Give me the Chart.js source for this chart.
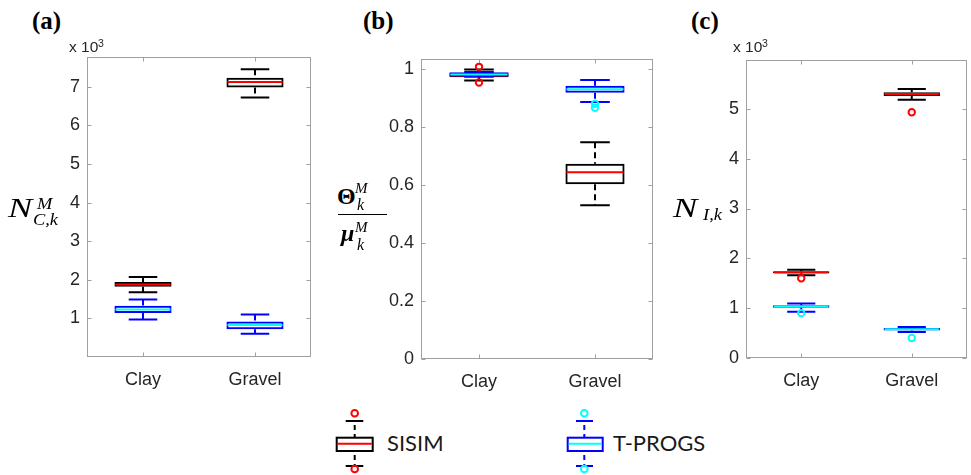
<!DOCTYPE html>
<html><head><meta charset="utf-8">
<script src="https://cdn.jsdelivr.net/npm/chart.js@4.4.1/dist/chart.umd.min.js"></script>
<style>
body{margin:0;background:#fff;}
#wrap{position:relative;width:971px;height:475px;overflow:hidden;background:#fff;}
#wrap canvas{position:absolute;}
.t{position:absolute;line-height:1;white-space:nowrap;color:#000;}
.serif{font-family:'Liberation Serif','Times New Roman',serif;}
.sans{font-family:'Liberation Sans',Arial,sans-serif;color:#262626;}
.lg{font-family:Lato,'Open Sans',sans-serif;color:#1a1a1a;font-size:22px;}
.wide{transform:scaleX(1.15);transform-origin:left top;}
.wideN{transform:scaleX(1.3);transform-origin:left top;}
svg{position:absolute;overflow:visible;}
</style></head>
<body><div id="wrap">
<canvas id="ca"></canvas><canvas id="cb"></canvas><canvas id="cc"></canvas>

<div class="t serif" style="left:32px;top:8px;font-size:25px;font-weight:bold;">(a)</div>
<div class="t serif" style="left:363px;top:8px;font-size:25px;font-weight:bold;">(b)</div>
<div class="t serif" style="left:691px;top:8px;font-size:25px;font-weight:bold;">(c)</div>

<div class="t sans" style="left:69px;top:38.7px;font-size:15.5px;">x 10</div>
<div class="t sans" style="left:98px;top:37.8px;font-size:10.5px;">3</div>
<div class="t sans" style="left:733px;top:38.7px;font-size:15.5px;">x 10</div>
<div class="t sans" style="left:762px;top:37.8px;font-size:10.5px;">3</div>

<!-- (a) label -->
<div class="t serif wideN" style="left:8px;top:193.8px;font-size:28px;font-style:italic;">N</div>
<div class="t serif wide" style="left:37px;top:195.6px;font-size:16px;font-style:italic;">M</div>
<div class="t serif wide" style="left:33px;top:212.2px;font-size:16px;font-style:italic;">C,k</div>

<!-- (b) label -->
<div class="t serif" style="left:337px;top:184px;font-size:24px;font-weight:bold;">Θ</div>
<div class="t serif" style="left:355px;top:180.9px;font-size:15px;font-style:italic;">M</div>
<div class="t serif" style="left:357px;top:196.6px;font-size:16px;font-style:italic;">k</div>
<div style="position:absolute;left:338px;top:214px;width:49px;height:0;border-top:1.5px solid #000;"></div>
<div class="t serif" style="left:341px;top:221px;font-size:24px;font-style:italic;font-weight:bold;">μ</div>
<div class="t serif" style="left:355px;top:220.4px;font-size:15px;font-style:italic;">M</div>
<div class="t serif" style="left:357px;top:236.6px;font-size:16px;font-style:italic;">k</div>

<!-- (c) label -->
<div class="t serif wideN" style="left:673px;top:193.8px;font-size:28px;font-style:italic;">N</div>
<div class="t serif wide" style="left:703px;top:206.6px;font-size:16px;font-style:italic;">I,k</div>

<!-- legend -->
<svg style="left:330px;top:405px;" width="50" height="70">
  <circle cx="24.7" cy="8.3" r="3.3" fill="none" stroke="#ff0000" stroke-width="2"/>
  <line x1="15.7" y1="16" x2="33.3" y2="16" stroke="#000" stroke-width="2"/>
  <line x1="24.7" y1="16" x2="24.7" y2="32.7" stroke="#000" stroke-width="2" stroke-dasharray="5,4" stroke-dashoffset="-4"/>
  <rect x="6.7" y="32.7" width="36" height="13.3" fill="none" stroke="#000" stroke-width="2"/>
  <line x1="7.7" y1="38.8" x2="41.7" y2="38.8" stroke="#ff0000" stroke-width="2"/>
  <line x1="24.7" y1="46" x2="24.7" y2="61" stroke="#000" stroke-width="2" stroke-dasharray="5,4" stroke-dashoffset="-4"/>
  <line x1="15.7" y1="61" x2="33.3" y2="61" stroke="#000" stroke-width="2"/>
  <circle cx="24.7" cy="64" r="3.3" fill="none" stroke="#ff0000" stroke-width="2"/>
</svg>
<div class="t lg" style="left:387px;top:431.7px;">SISIM</div>
<svg style="left:561px;top:405px;" width="50" height="70">
  <circle cx="23.3" cy="8.3" r="3.3" fill="none" stroke="#00ffff" stroke-width="2"/>
  <line x1="15" y1="16" x2="32" y2="16" stroke="#0000ff" stroke-width="2"/>
  <line x1="23.3" y1="16" x2="23.3" y2="32.7" stroke="#0000ff" stroke-width="2" stroke-dasharray="5,4" stroke-dashoffset="-4"/>
  <rect x="6.7" y="32.7" width="35" height="13.3" fill="none" stroke="#0000ff" stroke-width="2"/>
  <line x1="7.7" y1="38.8" x2="40.7" y2="38.8" stroke="#00ffff" stroke-width="2"/>
  <line x1="23.3" y1="46" x2="23.3" y2="61" stroke="#0000ff" stroke-width="2" stroke-dasharray="5,4" stroke-dashoffset="-4"/>
  <line x1="15" y1="61" x2="32" y2="61" stroke="#0000ff" stroke-width="2"/>
  <circle cx="23.3" cy="64" r="3.3" fill="none" stroke="#00ffff" stroke-width="2"/>
</svg>
<div class="t lg" style="left:613px;top:431.7px;">T-PROGS</div>
</div>

<script>
// ---------------- DATA ----------------
const categories = ['Clay', 'Gravel'];
// five-number summaries per category: [lower whisker, Q1, median, Q3, upper whisker]

// (a) N_C,k (x 10^3)
const sisimNC  = [[1.68, 1.82, 1.875, 1.94, 2.07], [6.72, 6.98, 7.12, 7.23, 7.45]];
const tprogsNC = [[0.97, 1.14, 1.23, 1.33, 1.49], [0.60, 0.72, 0.83, 0.92, 1.10]];
const sisimNCOut  = [[], []];
const tprogsNCOut = [[], []];
const ticksNC = [1, 2, 3, 4, 5, 6, 7];

// (b) Theta / mu
const sisimTheta  = [[0.959, 0.970, 0.976, 0.985, 0.997], [0.529, 0.602, 0.643, 0.672, 0.746]];
const tprogsTheta = [[0.972, 0.973, 0.980, 0.987, 0.988], [0.885, 0.917, 0.929, 0.941, 0.961]];
const sisimThetaOut  = [[1.006, 0.952], []];
const tprogsThetaOut = [[], [0.879, 0.865]];
const ticksTheta = [0, 0.2, 0.4, 0.6, 0.8, 1];

// (c) N_I,k (x 10^3)
const sisimNI  = [[1.66, 1.70, 1.715, 1.74, 1.77], [5.18, 5.26, 5.30, 5.335, 5.40]];
const tprogsNI = [[0.93, 1.01, 1.034, 1.06, 1.095], [0.52, 0.55, 0.575, 0.60, 0.62]];
const sisimNIOut  = [[1.60], [4.93]];
const tprogsNIOut = [[0.90], [0.40]];
const ticksNI = [0, 1, 2, 3, 4, 5];

// ---------------- STYLE ----------------
const SISIM = {box: '#000000', med: '#ff0000', out: '#ff0000'};
const TPROGS = {box: '#0000ff', med: '#00ffff', out: '#00ffff'};
const FRAME = '#a0a0a0';
const TICKFONT = {family: "'Liberation Sans', Arial, sans-serif", size: 18};

const boxPlugin = {
  id: 'boxWhisk',
  afterDatasetDraw(chart, args) {
    const ds = chart.data.datasets[args.index];
    if (!ds.stats) return;
    const ctx = chart.ctx, ys = chart.scales.y;
    ctx.save();
    ctx.lineWidth = 2;
    args.meta.data.forEach((bar, i) => {
      const s = ds.stats[i];
      const x = bar.x, w = bar.width;
      const p = s.map(v => ys.getPixelForValue(v));
      ctx.strokeStyle = ds.borderColor;
      ctx.setLineDash([6, 4]);
      ctx.beginPath();
      ctx.moveTo(x, p[4]); ctx.lineTo(x, p[3]);
      ctx.moveTo(x, p[1]); ctx.lineTo(x, p[0]);
      ctx.stroke();
      ctx.setLineDash([]);
      ctx.beginPath();
      ctx.moveTo(x - w / 4, p[4]); ctx.lineTo(x + w / 4, p[4]);
      ctx.moveTo(x - w / 4, p[0]); ctx.lineTo(x + w / 4, p[0]);
      ctx.stroke();
      ctx.strokeStyle = ds.medianColor;
      ctx.beginPath();
      ctx.moveTo(x - w / 2 + 1, p[2]); ctx.lineTo(x + w / 2 - 1, p[2]);
      ctx.stroke();
    });
    ctx.restore();
  }
};

const framePlugin = {
  id: 'frame',
  beforeDatasetsDraw(chart) {
    const {ctx, chartArea: a} = chart;
    const xs = chart.scales.x, ys = chart.scales.y;
    ctx.save();
    ctx.strokeStyle = FRAME; ctx.lineWidth = 1;
    const l = Math.round(a.left) + 0.5, r = Math.round(a.right) - 0.5;
    const t = Math.round(a.top) + 0.5, b = Math.round(a.bottom) - 0.5;
    ctx.strokeRect(l, t, r - l, b - t);
    ctx.beginPath();
    ys.ticks.forEach(tk => {
      const p = Math.round(ys.getPixelForValue(tk.value)) + 0.5;
      ctx.moveTo(l, p); ctx.lineTo(l + 4, p);
      ctx.moveTo(r, p); ctx.lineTo(r - 4, p);
    });
    xs.ticks.forEach((tk, i) => {
      const p = Math.round(xs.getPixelForTick(i)) + 0.5;
      ctx.moveTo(p, b); ctx.lineTo(p, b - 4);
      ctx.moveTo(p, t); ctx.lineTo(p, t + 4);
    });
    ctx.stroke();
    ctx.restore();
  }
};

function outPoints(arr) {
  const pts = [];
  arr.forEach((list, i) => list.forEach(v => pts.push({x: categories[i], y: v})));
  return pts;
}

function boxDataset(label, stats, col, order) {
  return {
    type: 'bar', label, order,
    data: stats.map(s => [s[1], s[3]]),
    stats, medianColor: col.med,
    borderColor: col.box, backgroundColor: 'rgba(0,0,0,0)',
    borderWidth: 2, borderSkipped: false, grouped: false,
    barPercentage: 0.51, categoryPercentage: 1.0
  };
}
function outDataset(label, arr, col, order) {
  return {
    type: 'scatter', label, order, data: outPoints(arr),
    pointStyle: 'circle', pointRadius: 3.2, pointBorderWidth: 2,
    pointBorderColor: col.out, pointBackgroundColor: 'rgba(0,0,0,0)',
    borderColor: col.out, backgroundColor: 'rgba(0,0,0,0)', showLine: false
  };
}

function makePanel(id, pos, sStats, tStats, sOut, tOut, ticks, ymax) {
  const YW = 60, PT = 20, PR = 10, XH = 45;
  const cv = document.getElementById(id);
  const w = pos.R - pos.L + YW + PR, h = pos.B - pos.T + PT + XH;
  cv.width = w; cv.height = h;
  cv.style.left = (pos.L - YW) + 'px'; cv.style.top = (pos.T - PT) + 'px';
  cv.style.width = w + 'px'; cv.style.height = h + 'px';
  new Chart(cv, {
    type: 'bar',
    data: {
      labels: categories,
      datasets: [
        outDataset('T-PROGS outliers', tOut, TPROGS, 1),
        boxDataset('T-PROGS', tStats, TPROGS, 2),
        outDataset('SISIM outliers', sOut, SISIM, 3),
        boxDataset('SISIM', sStats, SISIM, 4)
      ]
    },
    options: {
      responsive: false, animation: false, devicePixelRatio: 1,
      layout: {padding: {left: 0, right: PR, top: PT, bottom: 0}},
      plugins: {legend: {display: false}, tooltip: {enabled: false}},
      scales: {
        x: {
          type: 'category', offset: true,
          grid: {display: false, drawTicks: false}, border: {display: false},
          ticks: {font: TICKFONT, color: '#262626', padding: 12, maxRotation: 0, autoSkip: false},
          afterFit: s => { s.height = XH; }
        },
        y: {
          type: 'linear', min: 0, max: ymax,
          grid: {display: false, drawTicks: false}, border: {display: false},
          ticks: {font: TICKFONT, color: '#262626', padding: 7, autoSkip: false,
                  callback: v => String(v)},
          afterBuildTicks: s => { s.ticks = ticks.map(v => ({value: v})); },
          afterFit: s => { s.width = YW; }
        }
      }
    },
    plugins: [framePlugin, boxPlugin]
  });
}

makePanel('ca', {L: 87, R: 311, T: 57, B: 357}, sisimNC, tprogsNC, sisimNCOut, tprogsNCOut, ticksNC, 7.77);
makePanel('cb', {L: 421, R: 653, T: 59, B: 359}, sisimTheta, tprogsTheta, sisimThetaOut, tprogsThetaOut, ticksTheta, 1.033);
makePanel('cc', {L: 746, R: 967, T: 60, B: 358}, sisimNI, tprogsNI, sisimNIOut, tprogsNIOut, ticksNI, 5.98);
</script>
</body></html>
